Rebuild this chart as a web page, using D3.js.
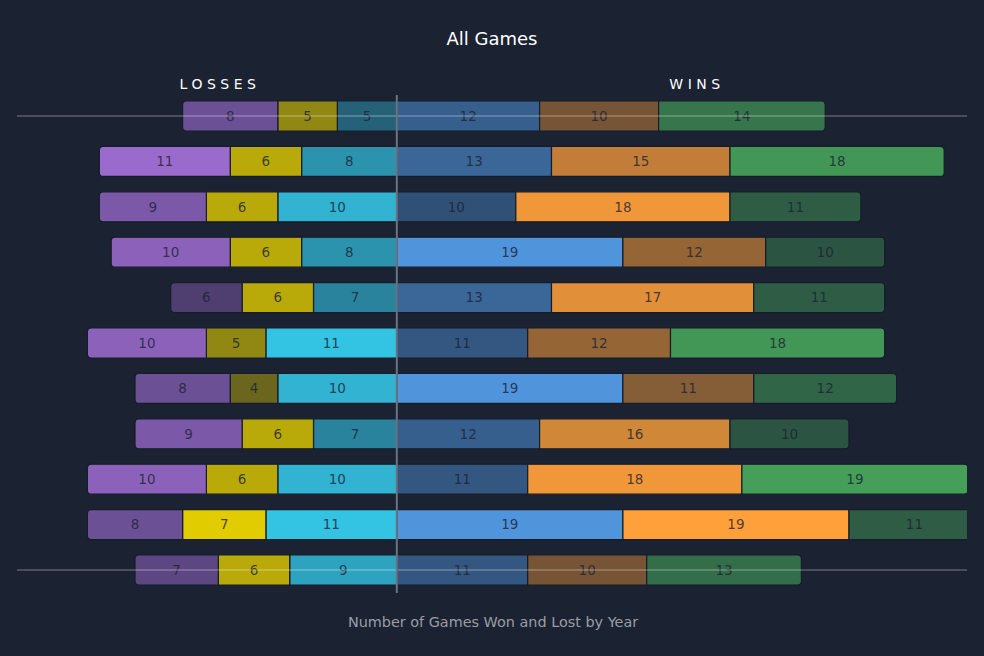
<!DOCTYPE html>
<html>
<head>
<meta charset="utf-8">
<script src="https://cdn.jsdelivr.net/npm/d3@7"></script>
<style>
  html, body { margin: 0; padding: 0; background: #1b2232; }
  svg { display: block; }
</style>
</head>
<body>
<div id="chart"></div>
<script>
// ---- Data ----
const years = ["2013", "2014", "2015", "2016", "2017", "2018", "2019", "2020", "2021", "2022", "2023"];
// losses, drawn outward from centre: inner (teal), middle (yellow), outer (purple)
const lossOuter  = [8, 11, 9, 10, 6, 10, 8, 9, 10, 8, 7];
const lossMiddle = [5, 6, 6, 6, 6, 5, 4, 6, 6, 7, 6];
const lossInner  = [5, 8, 10, 8, 7, 11, 10, 7, 10, 11, 9];
// wins, drawn outward from centre: inner (blue), middle (orange), outer (green)
const winInner  = [12, 13, 10, 19, 13, 11, 19, 12, 11, 19, 11];
const winMiddle = [10, 15, 18, 12, 17, 12, 11, 16, 18, 19, 10];
const winOuter  = [14, 18, 11, 10, 11, 18, 12, 10, 19, 11, 13];

const title = "All Games";
const subtitle = "Number of Games Won and Lost by Year";
const sideLabels = ["LOSSES", "WINS"];

// ---- Layout ----
const W = 984, H = 656;
const bg = "#1b2232";
const svg = d3.select("#chart").append("svg").attr("width", W).attr("height", H);
svg.append("rect").attr("width", W).attr("height", H).attr("fill", bg);

const x = d3.scaleLinear().domain([-32, 48]).range([16, 968]);
const y = d3.scalePoint().domain(years).range([116, 570]);
const barH = 30;

const series = [
  { key: "lossInner",  vals: lossInner,  side: -1, color: "#33c3e3", order: 0 },
  { key: "lossMiddle", vals: lossMiddle, side: -1, color: "#e0cc00", order: 1 },
  { key: "lossOuter",  vals: lossOuter,  side: -1, color: "#9a6acd", order: 2 },
  { key: "winInner",   vals: winInner,   side: 1,  color: "#5094dc", order: 0 },
  { key: "winMiddle",  vals: winMiddle,  side: 1,  color: "#ffa03a", order: 1 },
  { key: "winOuter",   vals: winOuter,   side: 1,  color: "#459f59", order: 2 }
];

// per-series intensity scale
series.forEach(s => {
  s.op = d3.scaleLinear().domain(d3.extent(s.vals)).range([0.4, 1]);
  s.fill = v => d3.interpolateRgb(bg, s.color)(s.op(v));
});

const segs = [];
years.forEach((yr, i) => {
  [-1, 1].forEach(side => {
    let acc = 0;
    series.filter(s => s.side === side).sort((a, b) => a.order - b.order).forEach(s => {
      const v = s.vals[i];
      segs.push({ yr, v, s, a: side * acc, b: side * (acc + v), outer: s.order === 2, side });
      acc += v;
    });
  });
});

svg.append("defs").append("clipPath").attr("id", "plotclip")
  .append("rect").attr("x", 17).attr("y", 0).attr("width", 950).attr("height", H);

const plot = svg.append("g").attr("clip-path", "url(#plotclip)");

function segPath(d) {
  const x0 = Math.min(x(d.a), x(d.b)), x1 = Math.max(x(d.a), x(d.b));
  const y0 = y(d.yr) - barH / 2, y1 = y(d.yr) + barH / 2;
  const r = 4;
  if (!d.outer) return `M${x0},${y0}H${x1}V${y1}H${x0}Z`;
  if (d.side > 0) {
    return `M${x0},${y0}H${x1 - r}Q${x1},${y0} ${x1},${y0 + r}V${y1 - r}Q${x1},${y1} ${x1 - r},${y1}H${x0}Z`;
  }
  return `M${x1},${y0}H${x0 + r}Q${x0},${y0} ${x0},${y0 + r}V${y1 - r}Q${x0},${y1} ${x0 + r},${y1}H${x1}Z`;
}

plot.selectAll("path.seg").data(segs).join("path")
  .attr("class", "seg")
  .attr("d", segPath)
  .attr("fill", d => d.s.fill(d.v))
  .attr("stroke", "#161c29")
  .attr("stroke-width", 1.2);

plot.selectAll("text.lbl").data(segs).join("text")
  .attr("class", "lbl")
  .attr("x", d => (x(d.a) + x(d.b)) / 2)
  .attr("y", d => y(d.yr))
  .attr("dy", "0.35em")
  .attr("text-anchor", "middle")
  .attr("font-family", "DejaVu Sans, Verdana, sans-serif")
  .attr("font-size", 13.5)
  .attr("fill", "#1b2232")
  .attr("fill-opacity", 0.8)
  .text(d => d.v);

// horizontal reference lines at first and last rows
const ends = [years[0], years[years.length - 1]];
svg.selectAll("line.h").data(ends).join("line")
  .attr("x1", 17).attr("x2", 967)
  .attr("y1", d => y(d)).attr("y2", d => y(d))
  .attr("stroke", "#ffffff").attr("stroke-opacity", 0.28).attr("stroke-width", 1.5);

// centre line
svg.append("line")
  .attr("x1", x(0)).attr("x2", x(0))
  .attr("y1", 95).attr("y2", 593)
  .attr("stroke", "#6b7282").attr("stroke-width", 2);

// titles
svg.append("text").attr("x", 492).attr("y", 45)
  .attr("text-anchor", "middle")
  .attr("font-family", "DejaVu Sans, Verdana, sans-serif")
  .attr("font-size", 18).attr("fill", "#ffffff").text(title);

svg.selectAll("text.side").data(sideLabels).join("text")
  .attr("class", "side")
  .attr("x", (d, i) => i === 0 ? 220 : 697)
  .attr("y", 89)
  .attr("text-anchor", "middle")
  .attr("font-family", "DejaVu Sans, Verdana, sans-serif")
  .attr("font-size", 14).attr("letter-spacing", 4.5)
  .attr("fill", "#ffffff").text(d => d);

svg.append("text").attr("x", 493).attr("y", 627)
  .attr("text-anchor", "middle")
  .attr("font-family", "DejaVu Sans, Verdana, sans-serif")
  .attr("font-size", 14.4).attr("fill", "#9a9ea6").text(subtitle);
</script>
</body>
</html>
